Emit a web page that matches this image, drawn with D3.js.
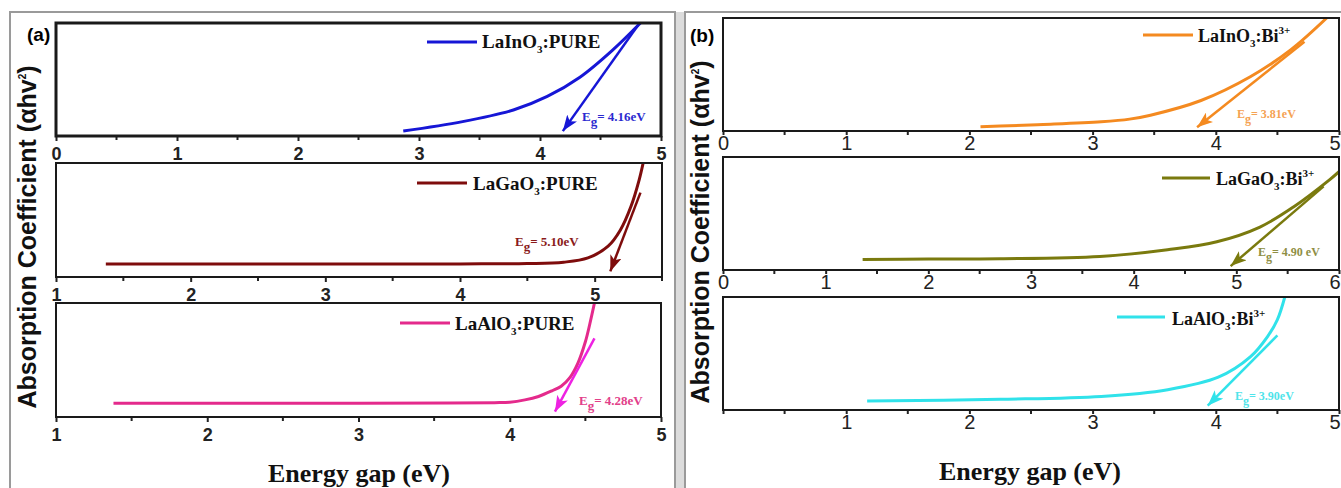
<!DOCTYPE html>
<html>
<head>
<meta charset="utf-8">
<script src="https://cdn.jsdelivr.net/npm/d3@7"></script>
<style>
  body { margin: 0; background: #fff; }
</style>
</head>
<body>
<div id="chart"></div>
<script>
// photon energy (eV) and normalised (ahv)^2
var inPureE = [2.87, 3.36, 3.78, 4.06, 4.33, 4.60, 4.83];
var inPureA = [0.044, 0.127, 0.23, 0.35, 0.52, 0.76, 1.0];
var gaPureE = [1.37, 2.0, 3.0, 4.0, 4.5, 4.77, 4.95, 5.10, 5.19, 5.27, 5.33, 5.36];
var gaPureA = [0.114, 0.114, 0.114, 0.115, 0.118, 0.13, 0.167, 0.27, 0.41, 0.62, 0.85, 1.0];
var alPureE = [1.38, 2.0, 3.0, 3.6, 3.9, 4.0, 4.1, 4.19, 4.28, 4.34, 4.40, 4.45, 4.50, 4.53, 4.56];
var alPureA = [0.12, 0.12, 0.12, 0.122, 0.126, 0.13, 0.15, 0.18, 0.23, 0.27, 0.35, 0.47, 0.66, 0.82, 1.0];
var inBiE = [2.09, 2.25, 2.6, 3.07, 3.3, 3.47, 3.88, 4.28, 4.61, 4.90];
var inBiA = [0.038, 0.044, 0.058, 0.082, 0.105, 0.14, 0.27, 0.48, 0.72, 1.0];
var gaBiE = [1.36, 2.0, 2.70, 3.67, 4.33, 4.81, 5.23, 5.56, 5.91, 6.0];
var gaBiA = [0.094, 0.097, 0.1, 0.12, 0.18, 0.25, 0.38, 0.56, 0.80, 0.87];
var alBiE = [1.17, 2.25, 3.07, 3.61, 4.02, 4.28, 4.42, 4.50, 4.56];
var alBiA = [0.08, 0.095, 0.12, 0.18, 0.29, 0.47, 0.65, 0.80, 1.0];

// tangent lines: [start energy, start value, band gap]
var inPureTan = [4.81, 0.98, 4.16];
var gaPureTan = [5.34, 0.74, 5.10];
var alPureTan = [4.56, 0.69, 4.28];
var inBiTan = [4.72, 0.79, 3.81];
var gaBiTan = [5.85, 0.74, 4.90];
var alBiTan = [4.50, 0.66, 3.90];

var gapLabels = ['= 4.16eV', '= 5.10eV', '= 4.28eV', '= 3.81eV', '= 4.90 eV', '= 3.90eV'];

var ticks0to5 = [0, 1, 2, 3, 4, 5];
var ticks1to5 = [1, 2, 3, 4, 5];
var ticks0to6 = [0, 1, 2, 3, 4, 5, 6];
var minor0to5 = [0.5, 1.5, 2.5, 3.5, 4.5];
var minor1to5 = [1.5, 2.5, 3.5, 4.5];
var minor1to55 = [1.5, 2.5, 3.5, 4.5, 5.5];
var minor0to6 = [0.5, 1.5, 2.5, 3.5, 4.5, 5.5];

var width = 1341;
var height = 488;

var svg = d3.select('#chart')
  .append('svg')
  .attr('width', width)
  .attr('height', height)
  .style('font-family', 'Liberation Sans, Arial, sans-serif');

var defs = svg.append('defs');

// outer frames of the two figure halves
svg.append('rect')
  .attr('x', 10).attr('y', 12).attr('width', 665).attr('height', 500)
  .attr('fill', 'none').attr('stroke', '#9a9a9a').attr('stroke-width', 2);
svg.append('rect')
  .attr('x', 676).attr('y', 12).attr('width', 9).attr('height', 480)
  .attr('fill', '#dcdcdc');
svg.append('rect')
  .attr('x', 685).attr('y', 12).attr('width', 700).attr('height', 500)
  .attr('fill', 'none').attr('stroke', '#9a9a9a').attr('stroke-width', 2);

var panels = [
  { e: inPureE, a: inPureA, tan: inPureTan, domain: [0, 5], ticks: ticks0to5, minor: minor0to5,
    left: 56, right: 661, top: 23, bottom: 136, frame: 3, bold: true,
    color: '#1616d6', arrow: '#1616d6', gapColor: '#2a2ad0',
    name: ['LaInO', '3', ':PURE'], leg: [427, 477, 42, 482, 48], gap: [582, 121] },
  { e: gaPureE, a: gaPureA, tan: gaPureTan, domain: [1, 5.5], ticks: ticks1to5, minor: minor1to55,
    left: 56, right: 662, top: 163, bottom: 277, frame: 2, bold: true,
    color: '#7e0c0c', arrow: '#7e0c0c', gapColor: '#8a1a1a',
    name: ['LaGaO', '3', ':PURE'], leg: [417, 467, 183, 473, 190], gap: [515, 246] },
  { e: alPureE, a: alPureA, tan: alPureTan, domain: [1, 5], ticks: ticks1to5, minor: minor1to5,
    left: 56, right: 661, top: 303, bottom: 417, frame: 2, bold: true,
    color: '#e42a8c', arrow: '#ee22e2', gapColor: '#e2408a',
    name: ['LaAlO', '3', ':PURE'], leg: [400, 450, 323, 455, 330], gap: [579, 405] },
  { e: inBiE, a: inBiA, tan: inBiTan, domain: [0, 5], ticks: ticks0to5, minor: minor0to5,
    left: 723, right: 1339, top: 18, bottom: 131, frame: 2, bold: false,
    color: '#f48a20', arrow: '#f48a20', gapColor: '#f5a253',
    name: ['LaInO', '3', ':Bi'], sup: '3+', leg: [1143, 1193, 35, 1198, 42], gap: [1237, 118] },
  { e: gaBiE, a: gaBiA, tan: gaBiTan, domain: [0, 6], ticks: ticks0to6, minor: minor0to6,
    left: 723, right: 1339, top: 157, bottom: 270, frame: 2, bold: false,
    color: '#7a7a0e', arrow: '#7a7a0e', gapColor: '#8e8e44',
    name: ['LaGaO', '3', ':Bi'], sup: '3+', leg: [1162, 1210, 178, 1216, 185], gap: [1258, 256] },
  { e: alBiE, a: alBiA, tan: alBiTan, domain: [0, 5], ticks: ticks0to5, minor: minor0to5, hideZero: true,
    left: 723, right: 1339, top: 297, bottom: 410, frame: 2, bold: false,
    color: '#30e2ea', arrow: '#30e2ea', gapColor: '#4fe4ea',
    name: ['LaAlO', '3', ':Bi'], sup: '3+', leg: [1117, 1165, 317, 1172, 325], gap: [1235, 400] }
];

panels.forEach(function(p, i) {
  var x = d3.scaleLinear().domain(p.domain).range([p.left, p.right]);
  var y = d3.scaleLinear().domain([0, 1]).range([p.bottom, p.top]);
  var g = svg.append('g');

  defs.append('clipPath').attr('id', 'clip' + i)
    .append('rect')
    .attr('x', p.left).attr('y', p.top)
    .attr('width', p.right - p.left).attr('height', p.bottom - p.top);

  defs.append('marker')
    .attr('id', 'arrow' + i)
    .attr('markerUnits', 'userSpaceOnUse')
    .attr('viewBox', '0 0 16 12')
    .attr('refX', 16).attr('refY', 6)
    .attr('markerWidth', 16).attr('markerHeight', 12)
    .attr('orient', 'auto')
    .append('path')
    .attr('d', 'M0,0 L16,6 L0,12 L4,6 z')
    .attr('fill', p.arrow);

  var line = d3.line()
    .x(function(d) { return x(d[0]); })
    .y(function(d) { return y(d[1]); })
    .curve(d3.curveCatmullRom.alpha(0.5));

  g.append('path')
    .datum(d3.zip(p.e, p.a))
    .attr('clip-path', 'url(#clip' + i + ')')
    .attr('d', line)
    .attr('fill', 'none')
    .attr('stroke', p.color)
    .attr('stroke-width', 3);

  // tangent with arrow down to the band gap
  var x1 = x(p.tan[0]), y1 = y(p.tan[1]), x2 = x(p.tan[2]), y2 = y(0);
  var len = Math.hypot(x2 - x1, y2 - y1);
  g.append('line')
    .attr('x1', x1).attr('y1', y1)
    .attr('x2', x2 - (x2 - x1) / len * 6)
    .attr('y2', y2 - (y2 - y1) / len * 6)
    .attr('stroke', p.arrow)
    .attr('stroke-width', 2.5)
    .attr('marker-end', 'url(#arrow' + i + ')');

  // x axis
  var axis = d3.axisBottom(x)
    .tickValues(p.ticks)
    .tickSize(p.bold ? 5 : 4)
    .tickPadding(p.bold ? 6 : 1)
    .tickFormat(function(d) { return (p.hideZero && d === 0) ? '' : d3.format('d')(d); });
  var ax = g.append('g')
    .attr('transform', 'translate(0,' + p.bottom + ')')
    .call(axis);
  ax.select('.domain').remove();
  ax.selectAll('line').attr('stroke', '#222').attr('stroke-width', 2);
  ax.selectAll('text')
    .attr('fill', '#222')
    .style('font-family', 'Liberation Sans, Arial, sans-serif')
    .style('font-size', p.bold ? '18px' : '20px')
    .style('font-weight', p.bold ? 'bold' : 'normal');
  // keep the last label inside the window
  ax.selectAll('text').filter(function(d) { return x(d) > width - 8; })
    .attr('text-anchor', 'end')
    .attr('x', width - 1 - x.range()[1]);

  g.selectAll('.minor')
    .data(p.minor)
    .enter()
    .append('line')
    .attr('x1', function(d) { return x(d); })
    .attr('x2', function(d) { return x(d); })
    .attr('y1', p.bottom)
    .attr('y2', p.bottom + 4)
    .attr('stroke', '#222')
    .attr('stroke-width', 2);

  g.append('rect')
    .attr('x', p.left).attr('y', p.top)
    .attr('width', p.right - p.left).attr('height', p.bottom - p.top)
    .attr('fill', 'none')
    .attr('stroke', '#1a1a1a')
    .attr('stroke-width', p.frame);

  // legend
  g.append('line')
    .attr('x1', p.leg[0]).attr('x2', p.leg[1])
    .attr('y1', p.leg[2]).attr('y2', p.leg[2])
    .attr('stroke', p.color)
    .attr('stroke-width', 3);
  var lt = g.append('text')
    .attr('x', p.leg[3]).attr('y', p.leg[4])
    .style('font-family', 'Liberation Serif, Times New Roman, serif')
    .style('font-weight', 'bold')
    .style('font-size', p.bold ? '19px' : '18px')
    .attr('fill', '#111');
  lt.append('tspan').text(p.name[0]);
  lt.append('tspan').attr('dy', 5).style('font-size', '11px').text(p.name[1]);
  lt.append('tspan').attr('dy', -5).text(p.name[2]);
  if (p.sup) {
    lt.append('tspan').attr('dy', -8).style('font-size', '11px').text(p.sup);
  }

  // band gap label
  var gt = g.append('text')
    .attr('x', p.gap[0]).attr('y', p.gap[1])
    .style('font-family', 'Liberation Serif, Times New Roman, serif')
    .style('font-weight', 'bold')
    .style('font-size', p.bold ? '13px' : '12px')
    .attr('fill', p.gapColor);
  gt.append('tspan').text('E');
  gt.append('tspan').attr('dy', 5).text('g');
  gt.append('tspan').attr('dy', -5).text(gapLabels[i]);
});

// panel letters
svg.append('text').attr('x', 27).attr('y', 41)
  .style('font-size', '19px').style('font-weight', 'bold').text('(a)');
svg.append('text').attr('x', 690).attr('y', 42)
  .style('font-size', '19px').style('font-weight', 'bold').text('(b)');

// axis titles
[[27, 237], [700, 232]].forEach(function(c) {
  var t = svg.append('text')
    .attr('transform', 'translate(' + (c[0] + 9) + ',' + c[1] + ') rotate(-90)')
    .attr('text-anchor', 'middle')
    .style('font-size', '25px')
    .style('font-weight', 'bold')
    .attr('fill', '#111');
  t.append('tspan').text('Absorption Coefficient (\u03b1hv');
  t.append('tspan').attr('dy', -10).style('font-size', '10px').text('2');
  t.append('tspan').attr('dy', 10).text(')');
});
[[359, 482], [1030, 480]].forEach(function(c) {
  svg.append('text')
    .attr('x', c[0]).attr('y', c[1])
    .attr('text-anchor', 'middle')
    .style('font-family', 'Liberation Serif, Times New Roman, serif')
    .style('font-size', '26px')
    .style('font-weight', 'bold')
    .attr('fill', '#111')
    .text('Energy gap (eV)');
});
</script>
</body>
</html>
